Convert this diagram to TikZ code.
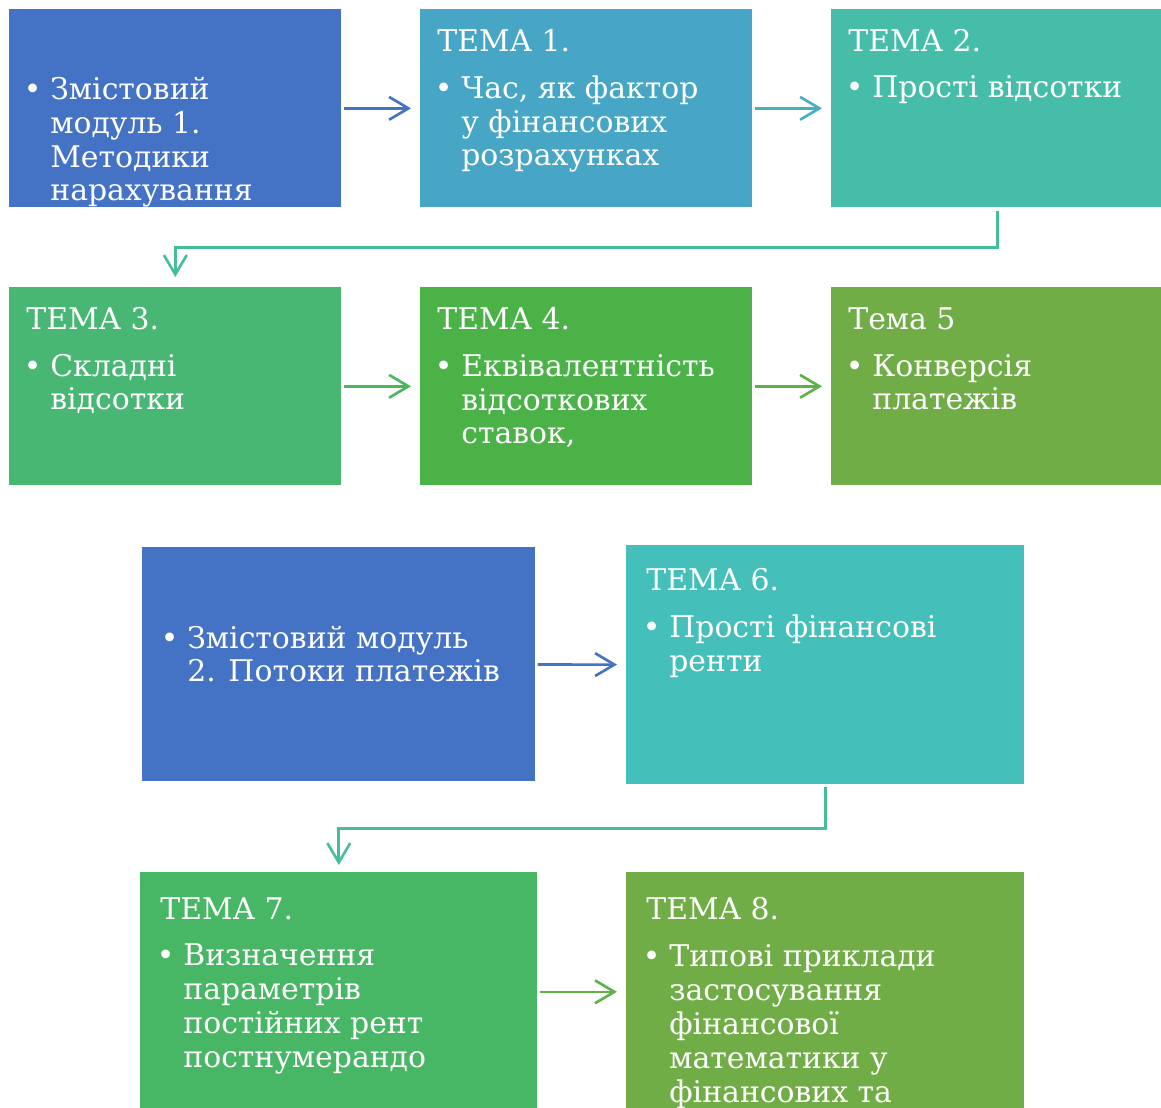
\documentclass[tikz,border=0pt]{standalone}
\usepackage{fontspec}
\setmainfont{DejaVu Serif}
\usepackage{tikz}
\usetikzlibrary{arrows.meta}

\definecolor{boxblue}{HTML}{4472C4}
\definecolor{boxcyan}{HTML}{47A5C5}
\definecolor{boxteal}{HTML}{46BDA9}
\definecolor{boxmint}{HTML}{48B774}
\definecolor{boxgreen}{HTML}{4AB247}
\definecolor{boxolive}{HTML}{71AD47}
\definecolor{boxaqua}{HTML}{44BFB9}
\definecolor{boxjade}{HTML}{48B765}
\definecolor{arrcyan}{HTML}{46AFC2}
\definecolor{arrteal}{HTML}{45BD98}
\definecolor{arrmint}{HTML}{4BB65D}
\definecolor{arrlime}{HTML}{5EB049}

\newcommand{\itemdot}{\llap{•\hspace{5pt}}}

\tikzset{
    box/.style={rectangle, anchor=north west, inner sep=0pt, minimum width=6.64cm, minimum height=3.96cm},
    title/.style={anchor=base west, inner sep=0pt, text=white, font=\fontsize{17}{19.3}\selectfont},
    item/.style={anchor=base west, inner sep=0pt, text=white, align=left, font=\fontsize{17}{19.3}\selectfont},
    link/.style={->, line width=1.5pt, shorten <=0.04cm, shorten >=0.18cm},
    >={Straight Barb[length=11pt,width=13pt]}
}

\begin{document}
\begin{tikzpicture}[x=0.02cm, y=-0.02cm]
    \useasboundingbox (0,0) rectangle (1161,1108);

    % first module: the boxes
    \node[box, fill=boxblue] (a) at (9,9) {};
    \node[box, fill=boxcyan] (b) at (420,9) {};
    \node[box, fill=boxteal] (c) at (831,9) {};
    \node[box, fill=boxmint] (d) at (9,287) {};
    \node[box, fill=boxgreen] (e) at (420,287) {};
    \node[box, fill=boxolive] (f) at (831,287) {};

    % second module: the boxes
    \node[box, fill=boxblue, minimum width=7.86cm, minimum height=4.68cm] (g) at (142,547) {};
    \node[box, fill=boxaqua, minimum width=7.96cm, minimum height=4.78cm] (h) at (626,545) {};
    \node[box, fill=boxjade, minimum width=7.94cm, minimum height=4.78cm] (i) at (140,872) {};
    \node[box, fill=boxolive, minimum width=7.96cm, minimum height=4.78cm] (j) at (626,872) {};

    % the texts (item nodes sit on the baseline of their last line)
    \begin{scope}
        \clip (a.north west) rectangle (a.south east);
        \node[item] (la) at ([shift={(41,192)}]a.north west) {\itemdot Змістовий\\модуль 1.\\Методики\\нарахування};
    \end{scope}

    \node[title] (tb) at ([shift={(17,43)}]b.north west) {ТЕМА 1.};
    \node[item] (lb) at ([shift={(41,157)}]b.north west) {\itemdot Час, як фактор\\у фінансових\\розрахунках};

    \node[title] (tc) at ([shift={(17,43)}]c.north west) {ТЕМА 2.};
    \node[item] (lc) at ([shift={(41,89)}]c.north west) {\itemdot Прості відсотки};

    \node[title] (td) at ([shift={(17,43)}]d.north west) {ТЕМА 3.};
    \node[item] (ld) at ([shift={(41,123)}]d.north west) {\itemdot Складні\\відсотки};

    \node[title] (te) at ([shift={(17,43)}]e.north west) {ТЕМА 4.};
    \node[item] (le) at ([shift={(41,157)}]e.north west) {\itemdot Еквівалентність\\відсоткових\\ставок,};

    \node[title] (tf) at ([shift={(17,43)}]f.north west) {Тема 5};
    \node[item] (lf) at ([shift={(41,123)}]f.north west) {\itemdot Конверсія\\платежів};

    \node[item] (lg) at ([shift={(45,135)}]g.north west) {\itemdot Змістовий модуль\\2. Потоки платежів};

    \node[title] (th) at ([shift={(20,45)}]h.north west) {ТЕМА 6.};
    \node[item] (lh) at ([shift={(43,126)}]h.north west) {\itemdot Прості фінансові\\ренти};

    \node[title] (ti) at ([shift={(20,47)}]i.north west) {ТЕМА 7.};
    \node[item] (li) at ([shift={(43,195)}]i.north west) {\itemdot Визначення\\параметрів\\постійних рент\\постнумерандо};

    \node[title] (tj) at ([shift={(20,47)}]j.north west) {ТЕМА 8.};
    \node[item] (lj) at ([shift={(43,230)}]j.north west) {\itemdot Типові приклади\\застосування\\фінансової\\математики у\\фінансових та};

    % draw the arrows
    \draw[link, draw=boxblue] (a) -- (b);
    \draw[link, draw=arrcyan] (b) -- (c);
    \draw[link, draw=arrteal, shorten <=0.06cm, shorten >=0.2cm] (c.south) -- ++(0,40) -| (d.north);
    \draw[link, draw=arrmint] (d) -- (e);
    \draw[link, draw=arrlime] (e) -- (f);

    \draw[link, draw=boxblue] (g) -- (h);
    \draw[link, draw=arrteal, shorten <=0.04cm, shorten >=0.14cm] (h.south) -- ++(0,44) -| (i.north);
    \draw[link, draw=arrlime] (i) -- (j);

\end{tikzpicture}
\end{document}
